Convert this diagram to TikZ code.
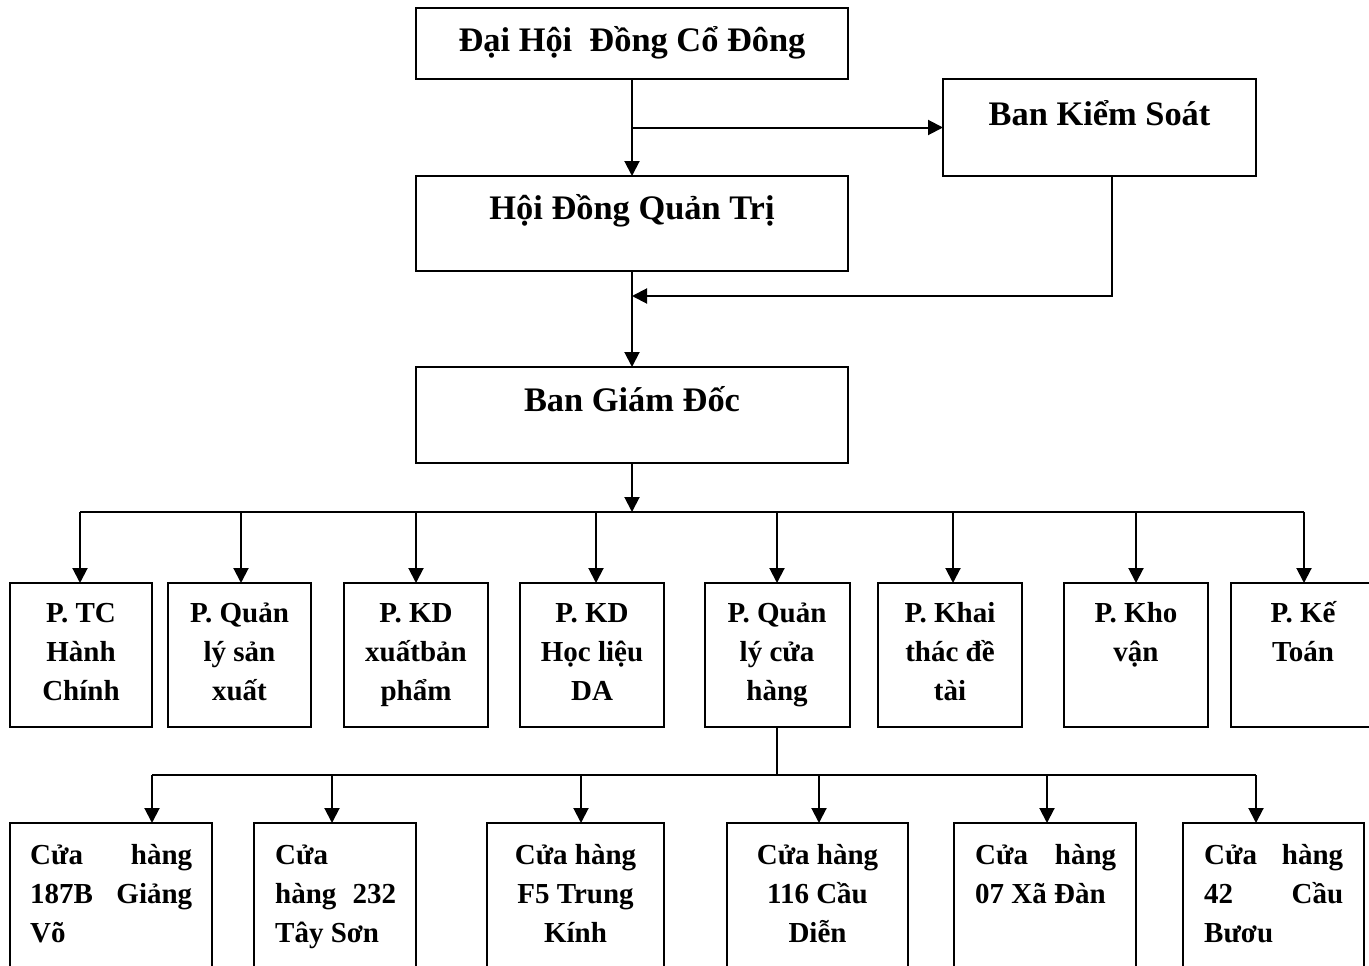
\documentclass[tikz,border=0pt]{standalone}
\usepackage{fontspec}
\setmainfont{Liberation Serif}
\usetikzlibrary{arrows.meta,calc}
\begin{document}
\begin{tikzpicture}[x=1pt,y=-1pt,
  box/.style={draw, line width=2pt, inner sep=0pt, outer sep=0pt},
  big/.style={font=\fontsize{34.4}{40}\selectfont\bfseries, inner sep=0pt, anchor=base},
  small/.style={font=\fontsize{29}{39}\selectfont\bfseries, inner sep=0pt},
  arr/.style={line width=2pt, -{Triangle[length=15pt,width=15pt]}},
  ln/.style={line width=2pt}]
\useasboundingbox (0,0) rectangle (1369,966);
\clip (0,0) rectangle (1369,966);

% top level boxes
\node[box, minimum width=432pt, minimum height=71pt] (dhcd) at (632,43.5) {};
\node[box, minimum width=432pt, minimum height=95pt] (hdqt) at (632,223.5) {};
\node[box, minimum width=313pt, minimum height=97pt] (bks) at (1099.5,127.5) {};
\node[box, minimum width=432pt, minimum height=96pt] (bgd) at (632,415) {};

\node[big] (dhcd-t) at ([yshift=-44pt]dhcd.north) {Đại Hội\ \ Đồng Cổ Đông};
\node[big] (hdqt-t) at ([yshift=-43pt]hdqt.north) {Hội Đồng Quản Trị};
\node[big] (bks-t) at ([yshift=-46pt]bks.north) {Ban Kiểm Soát};
\node[big] (bgd-t) at ([yshift=-44pt]bgd.north) {Ban Giám Đốc};

% row 1 boxes
\foreach \n/\cx/\w in {p1/81/142, p2/239.5/143, p3/416/144, p4/592/144,
                        p5/777/145, p6/950/144, p7/1136/144, p8/1303/144}
  \node[box, minimum width=\w pt, minimum height=144pt] (\n) at (\cx,655) {};

\node[small, anchor=base] (p1-t) at ([yshift=-39pt]p1.north) {\parbox[t]{140pt}{\centering P. TC\\Hành\\Chính}};
\node[small, anchor=base] (p2-t) at ([yshift=-39pt]p2.north) {\parbox[t]{140pt}{\centering P. Quản\\lý sản\\xuất}};
\node[small, anchor=base] (p3-t) at ([yshift=-39pt]p3.north) {\parbox[t]{140pt}{\centering P. KD\\xuấtbản\\phẩm}};
\node[small, anchor=base] (p4-t) at ([yshift=-39pt]p4.north) {\parbox[t]{140pt}{\centering P. KD\\Học liệu\\DA}};
\node[small, anchor=base] (p5-t) at ([yshift=-39pt]p5.north) {\parbox[t]{140pt}{\centering P. Quản\\lý cửa\\hàng}};
\node[small, anchor=base] (p6-t) at ([yshift=-39pt]p6.north) {\parbox[t]{140pt}{\centering P. Khai\\thác đề\\tài}};
\node[small, anchor=base] (p7-t) at ([yshift=-39pt]p7.north) {\parbox[t]{140pt}{\centering P. Kho\\vận}};
\node[small, anchor=base] (p8-t) at ([yshift=-39pt]p8.north) {\parbox[t]{140pt}{\centering P. Kế\\Toán}};

% row 2 boxes
\foreach \n/\cx/\w in {c1/111/202, c2/335/162, c3/575.5/177, c4/817.5/181,
                        c5/1045/182, c6/1273.5/181}
  \node[box, minimum width=\w pt, minimum height=177pt] (\n) at (\cx,911.5) {};

\node[small, anchor=base west] (c1-t) at ([xshift=20pt,yshift=-41pt]c1.north west) {\parbox[t]{162pt}{Cửa\hfill hàng\\187B\hfill Giảng\\Võ}};
\node[small, anchor=base west] (c2-t) at ([xshift=21pt,yshift=-41pt]c2.north west) {\parbox[t]{121pt}{Cửa\\hàng\hfill 232\\Tây Sơn}};
\node[small, anchor=base] (c3-t) at ([yshift=-41pt]c3.north) {\parbox[t]{160pt}{\centering Cửa hàng\\F5 Trung\\Kính}};
\node[small, anchor=base] (c4-t) at ([yshift=-41pt]c4.north) {\parbox[t]{160pt}{\centering Cửa hàng\\116 Cầu\\Diễn}};
\node[small, anchor=base west] (c5-t) at ([xshift=21pt,yshift=-41pt]c5.north west) {\parbox[t]{141pt}{Cửa\hfill hàng\\07 Xã Đàn}};
\node[small, anchor=base west] (c6-t) at ([xshift=21pt,yshift=-41pt]c6.north west) {\parbox[t]{139pt}{Cửa\hfill hàng\\42\hfill Cầu\\Bươu}};

% connectors top
\draw[arr] (dhcd.south) -- (hdqt.north);
\coordinate (j1) at (632,127.5);
\draw[ln] (dhcd.south) -- (j1);
\draw[arr] (j1) -- (bks.west);
\coordinate (k1) at (1112,296);
\coordinate (k2) at (632,296);
\draw[arr] (k1 |- bks.south) -- (k1) -- (k2);
\draw[arr] (hdqt.south) -- (bgd.north);

% bus 1
\coordinate (bus1) at (632,512);
\draw[arr] (bgd.south) -- (bus1);
\foreach \i/\x in {1/80, 2/241, 3/416, 4/596, 5/777, 6/953, 7/1136, 8/1304}
  \coordinate (b\i) at (\x,512);
\draw[ln] (b1) -- (b8);
\foreach \i in {1,...,8}
  \draw[arr] (b\i) -- (b\i |- p\i.north);

% bus 2
\foreach \i/\x in {1/152, 2/332, 3/581, 4/819, 5/1047, 6/1256}
  \coordinate (q\i) at (\x,775);
\draw[ln] (p5.south) -- (p5.south |- q1);
\draw[ln] (q1) -- (q6);
\foreach \i in {1,...,6}
  \draw[arr] (q\i) -- (q\i |- c\i.north);
\end{tikzpicture}
\end{document}
